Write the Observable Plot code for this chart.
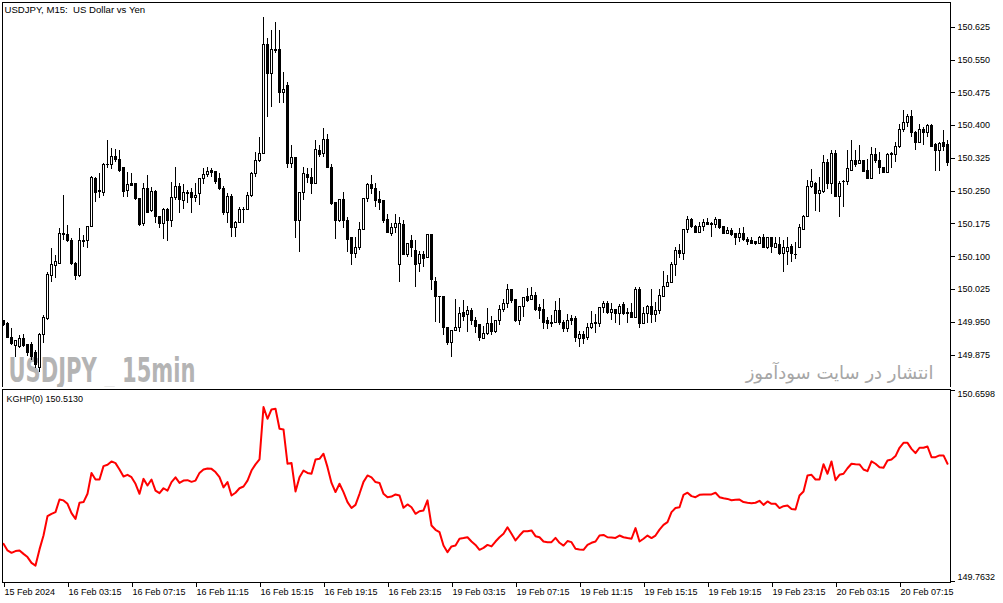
<!DOCTYPE html>
<html><head><meta charset="utf-8">
<script src="https://cdn.jsdelivr.net/npm/d3@7"></script>
<script src="https://cdn.jsdelivr.net/npm/@observablehq/plot@0.6"></script>
<style>
html,body{margin:0;padding:0;background:#fff;}
#wrap{position:relative;width:1003px;height:603px;overflow:hidden;background:#fff;}
#main{position:absolute;left:0;top:0;}
#sub{position:absolute;left:0;top:387px;}
svg{display:block;}
svg text{white-space:pre;}
</style></head><body><div id="wrap"><div id="main"></div><div id="sub"></div></div>
<script>
const headerText = "USDJPY, M15:  US Dollar vs Yen";
const indicatorText = "KGHP(0) 150.5130";
const watermarkText = "USDJPY _ 15min";
const persianText = "انتشار در سایت سودآموز";

const open = [
149.952,149.947,149.915,149.895,149.893,149.913,149.898,149.898,149.879,149.845,
149.920,149.957,150.057,150.080,150.084,150.149,150.149,150.137,150.084,150.055,
150.133,150.137,150.167,150.279,150.247,150.245,150.309,150.309,150.329,150.322,
150.302,150.250,150.267,150.267,150.231,150.174,150.256,150.204,150.247,150.192,
150.176,150.208,150.181,150.234,150.259,150.227,150.245,150.245,150.234,150.243,
150.277,150.286,150.297,150.295,150.277,150.256,150.199,150.236,150.165,150.178,
150.208,150.208,150.240,150.290,150.318,150.336,150.584,150.519,150.574,150.574,
150.475,150.491,150.313,150.327,150.181,150.245,150.288,150.281,150.267,150.343,
150.334,150.368,150.302,150.222,150.181,150.229,150.181,150.142,150.107,150.121,
150.162,150.231,150.265,150.256,150.229,150.227,150.183,150.153,150.165,150.082,
150.172,150.103,150.137,150.114,150.084,150.103,150.098,150.149,150.043,150.009,
150.007,149.938,149.902,149.931,149.936,149.972,149.966,149.977,149.954,149.943,
149.913,149.924,149.947,149.929,149.952,149.979,149.993,150.025,150.002,149.952,
149.984,150.007,150.002,150.011,149.982,149.979,149.952,149.949,149.949,149.977,
149.949,149.934,149.957,149.957,149.913,149.922,149.915,149.938,149.949,149.947,
149.982,149.991,149.972,149.979,149.970,149.989,149.972,149.972,149.961,150.025,
149.947,149.970,149.984,149.966,149.977,150.009,150.030,150.041,150.082,150.114,
150.107,150.162,150.183,150.169,150.155,150.167,150.178,150.174,150.172,150.185,
150.167,150.153,150.160,150.151,150.144,150.153,150.139,150.135,150.133,150.130,
150.144,150.121,150.144,150.121,150.128,150.107,150.110,150.123,150.105,150.121,
150.162,150.190,150.259,150.267,150.243,150.247,150.315,150.267,150.334,150.236,
150.270,150.270,150.297,150.320,150.313,150.318,150.297,150.277,150.332,150.318,
150.302,150.292,150.332,150.332,150.350,150.391,150.407,150.419,150.384,150.361,
150.391,150.384,150.398,150.355,150.343,150.361,150.355];

const high = [
149.954,149.949,149.936,149.909,149.920,149.922,149.900,149.904,149.886,149.924,
149.966,150.064,150.119,150.103,150.165,150.241,150.172,150.142,150.087,150.165,
150.149,150.167,150.283,150.281,150.290,150.313,150.366,150.348,150.345,150.343,
150.302,150.292,150.290,150.267,150.231,150.267,150.286,150.259,150.252,150.192,
150.211,150.211,150.270,150.304,150.267,150.265,150.252,150.256,150.267,150.279,
150.302,150.304,150.302,150.295,150.290,150.261,150.245,150.243,150.181,150.213,
150.213,150.247,150.292,150.338,150.373,150.647,150.599,150.617,150.635,150.617,
150.521,150.498,150.355,150.327,150.245,150.304,150.302,150.302,150.366,150.355,
150.394,150.380,150.311,150.222,150.229,150.247,150.190,150.144,150.144,150.178,
150.231,150.267,150.286,150.267,150.250,150.227,150.197,150.176,150.197,150.190,
150.183,150.130,150.149,150.137,150.112,150.112,150.149,150.149,150.053,150.009,
150.007,149.938,149.931,150.002,149.984,150.000,149.986,149.982,149.961,149.943,
149.940,149.982,149.963,149.954,149.989,150.002,150.037,150.025,150.002,149.986,
150.007,150.027,150.030,150.018,149.991,150.002,149.961,149.966,149.998,150.005,
149.954,149.968,149.966,149.963,149.929,149.929,149.947,149.975,149.968,149.984,
149.998,149.998,149.993,149.979,149.991,149.995,149.982,149.993,150.030,150.030,
149.984,149.989,150.025,149.995,150.025,150.066,150.057,150.087,150.121,150.128,
150.162,150.192,150.188,150.172,150.178,150.185,150.188,150.178,150.190,150.185,
150.167,150.167,150.165,150.153,150.165,150.167,150.144,150.144,150.135,150.146,
150.151,150.144,150.144,150.144,150.144,150.137,150.144,150.128,150.133,150.174,
150.195,150.274,150.300,150.270,150.281,150.332,150.322,150.343,150.343,150.272,
150.274,150.343,150.366,150.343,150.355,150.318,150.322,150.350,150.348,150.338,
150.304,150.336,150.338,150.361,150.403,150.435,150.426,150.435,150.387,150.403,
150.396,150.403,150.403,150.359,150.361,150.389,150.366];

const low = [
149.940,149.913,149.898,149.870,149.891,149.893,149.872,149.863,149.845,149.835,
149.902,149.954,150.041,150.050,150.084,150.137,150.133,150.080,150.046,150.053,
150.121,150.119,150.167,150.224,150.234,150.238,150.302,150.300,150.315,150.292,
150.236,150.236,150.263,150.229,150.169,150.169,150.199,150.201,150.176,150.165,
150.139,150.135,150.167,150.229,150.199,150.208,150.222,150.199,150.224,150.217,
150.265,150.281,150.281,150.265,150.252,150.195,150.176,150.144,150.144,150.176,
150.176,150.206,150.236,150.281,150.315,150.336,150.419,150.441,150.565,150.450,
150.450,150.302,150.302,150.142,150.110,150.229,150.267,150.243,150.265,150.327,
150.327,150.302,150.217,150.139,150.178,150.165,150.110,150.080,150.096,150.114,
150.160,150.224,150.243,150.213,150.206,150.176,150.155,150.146,150.153,150.041,
150.103,150.098,150.098,150.030,150.064,150.075,150.096,150.023,149.949,149.947,
149.920,149.898,149.870,149.929,149.927,149.952,149.927,149.943,149.924,149.907,
149.911,149.920,149.920,149.924,149.943,149.972,149.982,149.993,149.949,149.943,
149.961,149.995,150.000,149.975,149.957,149.934,149.934,149.938,149.947,149.943,
149.927,149.927,149.943,149.904,149.893,149.900,149.909,149.934,149.924,149.938,
149.970,149.968,149.954,149.947,149.943,149.966,149.947,149.961,149.961,149.936,
149.947,149.947,149.947,149.949,149.968,150.007,150.030,150.039,150.055,150.096,
150.091,150.153,150.165,150.153,150.153,150.158,150.172,150.144,150.165,150.162,
150.151,150.151,150.146,150.126,150.133,150.135,150.126,150.128,150.126,150.130,
150.121,150.117,150.107,150.119,150.103,150.064,150.080,150.087,150.094,150.121,
150.160,150.190,150.256,150.204,150.201,150.245,150.254,150.243,150.236,150.190,
150.213,150.263,150.295,150.304,150.311,150.292,150.277,150.277,150.313,150.288,
150.290,150.292,150.302,150.315,150.348,150.384,150.396,150.373,150.343,150.359,
150.355,150.373,150.350,150.295,150.295,150.341,150.306];

const close = [
149.945,149.915,149.900,149.907,149.913,149.895,149.879,149.870,149.852,149.920,
149.959,150.059,150.082,150.087,150.153,150.153,150.135,150.084,150.055,150.135,
150.137,150.167,150.281,150.245,150.250,150.309,150.311,150.329,150.322,150.297,
150.247,150.265,150.263,150.231,150.172,150.256,150.201,150.247,150.190,150.176,
150.208,150.181,150.234,150.259,150.229,150.245,150.243,150.234,150.240,150.277,
150.286,150.295,150.292,150.272,150.256,150.199,150.236,150.165,150.178,150.206,
150.206,150.240,150.290,150.318,150.336,150.584,150.519,150.574,150.570,150.475,
150.482,150.313,150.327,150.181,150.245,150.290,150.281,150.267,150.345,150.332,
150.368,150.302,150.220,150.181,150.229,150.181,150.139,150.107,150.121,150.162,
150.231,150.265,150.256,150.227,150.224,150.181,150.155,150.165,150.176,150.176,
150.103,150.130,150.121,150.082,150.103,150.096,150.149,150.046,150.007,150.007,
149.936,149.902,149.931,149.936,149.970,149.963,149.977,149.952,149.940,149.915,
149.924,149.947,149.929,149.954,149.979,149.993,150.025,150.000,149.952,149.984,
150.005,150.000,150.011,149.979,149.977,149.949,149.947,149.947,149.977,149.949,
149.934,149.954,149.952,149.915,149.922,149.913,149.938,149.947,149.947,149.982,
149.991,149.972,149.979,149.968,149.986,149.968,149.970,149.961,150.025,149.947,
149.970,149.984,149.966,149.977,150.011,150.032,150.041,150.082,150.114,150.107,
150.162,150.185,150.167,150.155,150.169,150.178,150.172,150.172,150.185,150.165,
150.153,150.160,150.149,150.144,150.153,150.139,150.133,150.130,150.130,150.144,
150.121,150.144,150.123,150.130,150.107,150.121,150.121,150.107,150.104,150.165,
150.190,150.259,150.270,150.243,150.250,150.315,150.267,150.334,150.236,150.267,
150.272,150.300,150.320,150.311,150.318,150.295,150.279,150.332,150.318,150.302,
150.292,150.332,150.336,150.350,150.391,150.407,150.419,150.384,150.361,150.391,
150.384,150.400,150.350,150.343,150.359,150.352,150.315];

const kghp = [
149.940,149.909,149.898,149.906,149.909,149.893,149.878,149.851,149.838,149.914,
149.979,150.070,150.081,150.089,150.148,150.144,150.128,150.084,150.057,150.133,
150.136,150.175,150.273,150.242,150.242,150.305,150.311,150.327,150.319,150.289,
150.256,150.264,150.253,150.222,150.175,150.245,150.214,150.242,150.190,150.178,
150.201,150.190,150.230,150.252,150.226,150.237,150.239,150.231,150.237,150.273,
150.289,150.294,150.292,150.277,150.253,150.205,150.230,150.167,150.180,150.201,
150.209,150.237,150.284,150.313,150.336,150.582,150.527,150.571,150.574,150.480,
150.477,150.316,150.320,150.186,150.253,150.284,150.273,150.269,150.336,150.339,
150.363,150.300,150.226,150.183,150.222,150.183,150.136,150.108,150.123,150.175,
150.231,150.261,150.252,150.230,150.226,150.175,150.159,150.162,150.172,150.167,
150.109,150.125,150.112,150.081,150.093,150.097,150.144,150.026,150.006,149.995,
149.932,149.901,149.928,149.932,149.964,149.967,149.971,149.951,149.935,149.912,
149.921,149.935,149.928,149.951,149.971,149.987,150.018,149.987,149.956,149.979,
149.999,149.999,150.003,149.976,149.971,149.951,149.948,149.948,149.968,149.945,
149.932,149.953,149.948,149.917,149.914,149.912,149.935,149.945,149.951,149.979,
149.982,149.971,149.970,149.968,149.979,149.971,149.967,149.964,150.014,149.951,
149.964,149.979,149.967,149.979,150.007,150.029,150.042,150.089,150.108,150.112,
150.170,150.180,150.164,150.159,150.170,150.172,150.172,150.172,150.180,150.159,
150.154,150.151,150.145,150.147,150.148,150.136,150.133,150.131,150.133,150.142,
150.123,150.139,150.128,150.128,150.108,150.117,150.120,150.104,150.101,150.167,
150.186,150.261,150.264,150.242,150.242,150.314,150.269,150.327,150.239,150.264,
150.269,150.295,150.316,150.314,150.313,150.289,150.281,150.327,150.316,150.300,
150.297,150.331,150.336,150.352,150.391,150.414,150.414,150.386,150.366,150.391,
150.391,150.397,150.347,150.347,150.355,150.355,150.316];

const priceTicks = [150.625,150.550,150.475,150.400,150.325,150.250,150.175,150.100,150.025,149.950,149.875];
const subTicks = [150.6598, 149.7632];
const timeTickBars = [0,16,32,48,64,80,96,112,128,144,160,176,192,208,224];
const timeTickLabels = ["15 Feb 2024","16 Feb 03:15","16 Feb 07:15","16 Feb 11:15","16 Feb 15:15","16 Feb 19:15","16 Feb 23:15","19 Feb 03:15","19 Feb 07:15","19 Feb 11:15","19 Feb 15:15","19 Feb 19:15","19 Feb 23:15","20 Feb 03:15","20 Feb 07:15"];

const n = Math.min(open.length, high.length, low.length, close.length, kghp.length);
const bars = d3.range(n).map(i => ({i, o: open[i], h: high[i], l: low[i], c: close[i], k: kghp[i]}));
const bulls = bars.filter(d => d.c >= d.o);
const bears = bars.filter(d => d.c < d.o);

const W = 1003;
const font = "'Liberation Sans', Arial, sans-serif";
const xDomain = [-0.25, 236.75];
const crisp = "crispEdges";

const main = Plot.plot({
  width: W, height: 389,
  marginTop: 2, marginBottom: 2, marginLeft: 2, marginRight: 53,
  style: {fontFamily: font, fontSize: "9px", background: "white", color: "black", overflow: "visible"},
  x: {domain: xDomain, axis: null},
  y: {domain: [149.80103, 150.68153], axis: null},
  marks: [
    Plot.text([watermarkText], {frameAnchor: "bottom-left", dx: 6, dy: -6, lineAnchor: "bottom", textAnchor: "start",
      fontSize: 33, fontWeight: "bold", fontFamily: "DejaVu Sans", fill: "#b4b4b4"}),
    Plot.text([persianText], {frameAnchor: "bottom-right", dx: -17, dy: -9, lineAnchor: "bottom", textAnchor: "end",
      fontSize: 18, fontFamily: "DejaVu Sans", fill: "#a6a6a6"}),
    Plot.ruleX(bars, {x: "i", y1: "l", y2: "h", stroke: "black", strokeWidth: 1, shapeRendering: crisp}),
    Plot.rect(bulls, {x1: d => d.i - 0.25, x2: d => d.i + 0.25, y1: "o", y2: "c", fill: "white", stroke: "black", strokeWidth: 1, shapeRendering: crisp}),
    Plot.rect(bears, {x1: d => d.i - 0.25, x2: d => d.i + 0.25, y1: "o", y2: "c", fill: "black", stroke: "black", strokeWidth: 1, shapeRendering: crisp}),
    Plot.frame({stroke: "black", shapeRendering: crisp}),
    Plot.axisY({anchor: "right", ticks: priceTicks, tickFormat: d => d.toFixed(3), tickSize: 4, tickPadding: 3, fontSize: 9, label: null, shapeRendering: crisp}),
    Plot.text([headerText], {frameAnchor: "top-left", dx: 2, dy: 4, lineAnchor: "top", textAnchor: "start", fontSize: 9.6, fill: "black"})
  ]
});

const sub = Plot.plot({
  width: W, height: 216,
  marginTop: 2, marginBottom: 21, marginLeft: 2, marginRight: 53,
  style: {fontFamily: font, fontSize: "9px", background: "white", color: "black", overflow: "visible"},
  x: {domain: xDomain, axis: null},
  y: {domain: [149.7586, 150.6645], axis: null},
  marks: [
    Plot.line(bars, {x: "i", y: "k", stroke: "#ff0000", strokeWidth: 2}),
    Plot.frame({stroke: "black", shapeRendering: crisp}),
    Plot.axisY({anchor: "right", ticks: subTicks, tickFormat: () => "", tickSize: 4, label: null, shapeRendering: crisp}),
    Plot.text([subTicks[0]], {y: d => d, frameAnchor: "right", dx: 7, dy: 4, textAnchor: "start", fontSize: 9, fill: "black", text: d => d.toFixed(4)}),
    Plot.text([subTicks[1]], {y: d => d, frameAnchor: "right", dx: 7, dy: -4, textAnchor: "start", fontSize: 9, fill: "black", text: d => d.toFixed(4)}),
    Plot.axisX({anchor: "bottom", ticks: timeTickBars, tickFormat: d => timeTickLabels[timeTickBars.indexOf(d)], tickSize: 5, tickPadding: 1, textAnchor: "start", dx: 1, fontSize: 9, label: null, shapeRendering: crisp}),
    Plot.text([indicatorText], {frameAnchor: "top-left", dx: 4, dy: 6, lineAnchor: "top", textAnchor: "start", fontSize: 9, fill: "black"})
  ]
});

document.getElementById("main").appendChild(main);
document.getElementById("sub").appendChild(sub);

d3.select(main).selectAll("text").filter(function() { return this.textContent === watermarkText; })
  .attr("textLength", 187).attr("lengthAdjust", "spacingAndGlyphs");
</script>
</body></html>
